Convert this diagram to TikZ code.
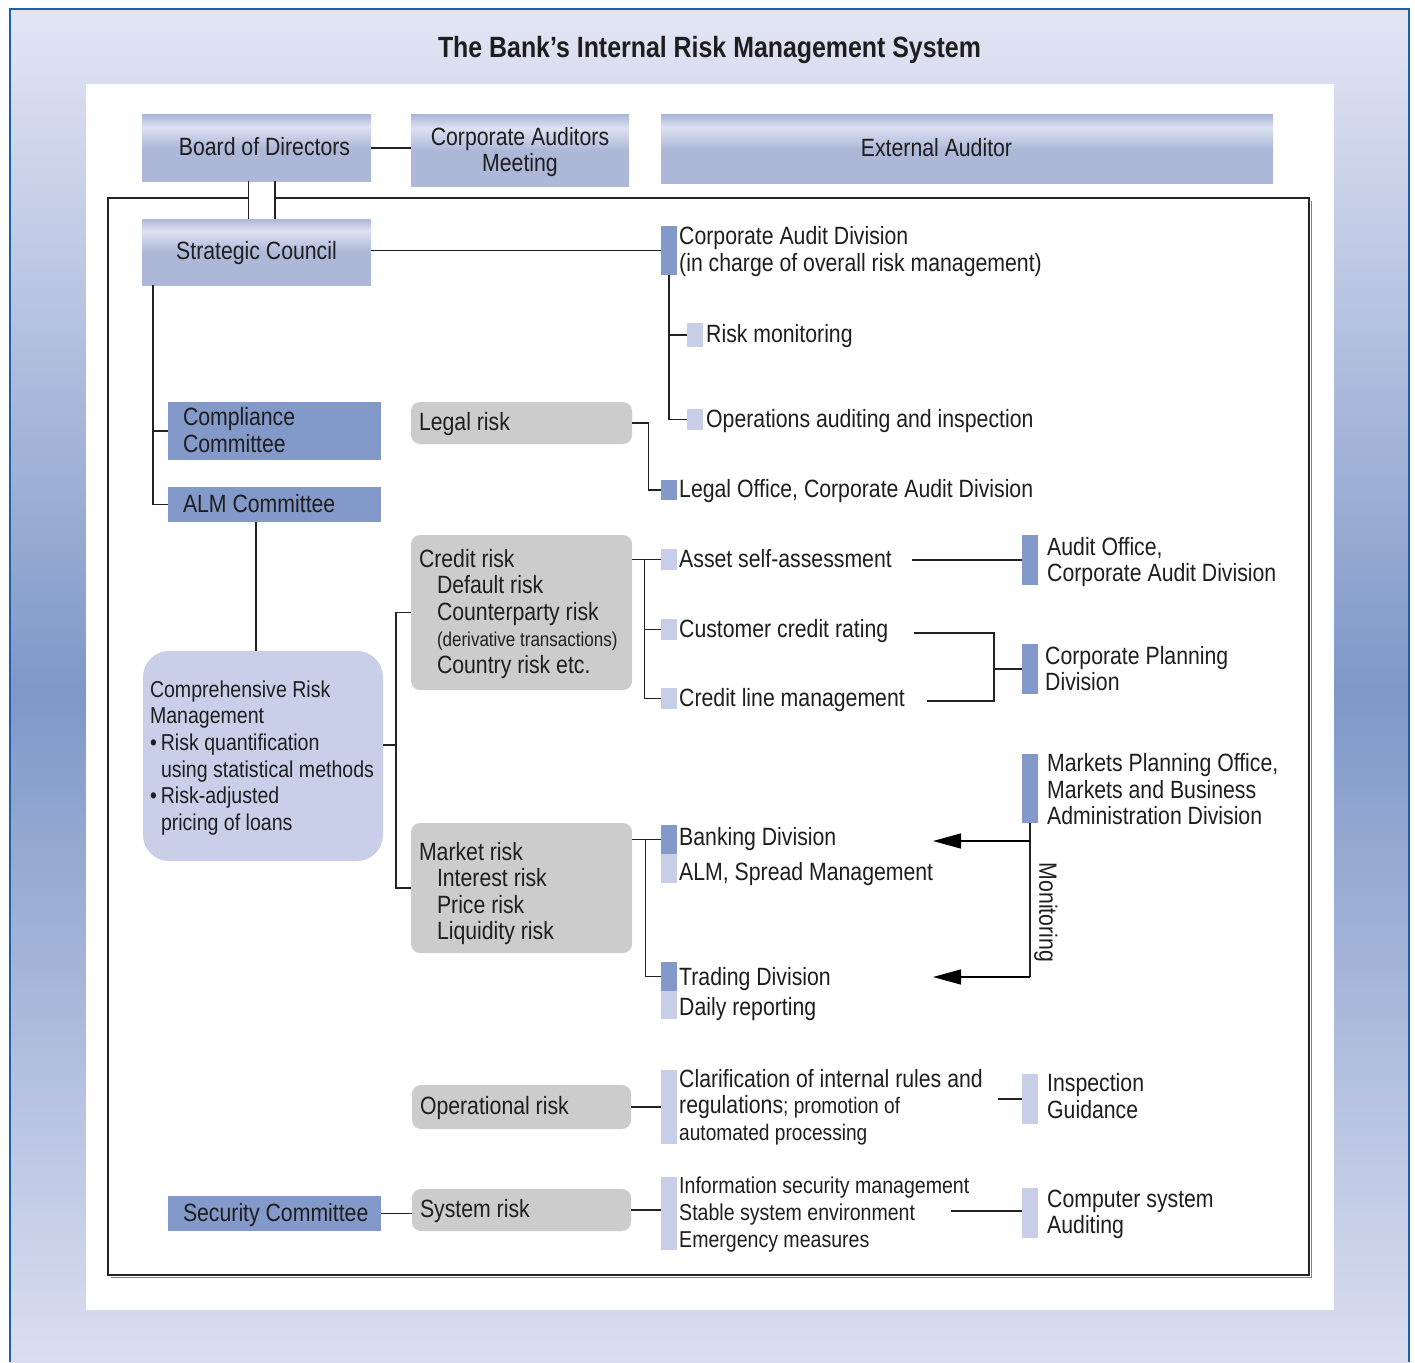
\documentclass[tikz,border=0pt]{standalone}
\usepackage{fontspec}
\setmainfont{Liberation Sans}[FakeStretch=0.85]
\usetikzlibrary{arrows.meta}

% palette
\definecolor{bordblue}{RGB}{25,97,172}
\definecolor{bgtop}{RGB}{227,229,244}
\definecolor{bgmid}{RGB}{127,152,200}
\definecolor{bgbot}{RGB}{218,222,240}
\definecolor{dkblue}{RGB}{131,153,201}
\definecolor{ltblue}{RGB}{200,206,232}
\definecolor{crmc}{RGB}{201,207,232}
\definecolor{riskgray}{RGB}{204,204,204}
\definecolor{linec}{RGB}{35,35,35}
\definecolor{txt}{RGB}{30,30,30}
\definecolor{tbtop}{RGB}{172,183,217}
\definecolor{tblight}{RGB}{221,225,242}
\definecolor{tbdark}{RGB}{173,184,216}

% header boxes: thin light band near the top, darker lower part
\pgfdeclareverticalshading{tbshade}{100bp}{color(0bp)=(tbdark); color(25bp)=(tbdark); color(50bp)=(tbdark); color(66bp)=(tblight); color(75bp)=(tbtop); color(100bp)=(tbtop)}

% type sizes and line struts
\newcommand\fnt{\fontsize{25}{26.5}\selectfont}
\newcommand\fsm{\fontsize{22.5}{26.5}\selectfont}
\newcommand\fder{\fontsize{20}{26.5}\selectfont}
\newcommand\fsys{\fontsize{23}{27}\selectfont}
\newcommand\fcrm{\fontsize{23}{26.6}\selectfont}
\newcommand\ftitle{\fontsize{29.3}{32}\selectfont\bfseries}
\newcommand\ts{\rule[-5.5pt]{0pt}{26.5pt}}
\newcommand\tss{\rule[-6pt]{0pt}{27pt}}

\begin{document}
\begin{tikzpicture}[x=1pt,y=-1pt,
  every node/.append style={font=\fnt, text=txt},
  conn/.style={draw=linec, line width=1.4pt},
  topbox/.style={shading=tbshade, shade, draw=none, inner sep=0pt, align=center},
  dkbox/.style={fill=dkblue, draw=none, inner xsep=15pt, inner ysep=0pt, align=flush left},
  riskbox/.style={fill=riskgray, draw=none, rounded corners=9pt, inner xsep=8pt, inner ysep=0pt, align=flush left},
  dkbar/.style={fill=dkblue, draw=none, inner sep=0pt, minimum width=16pt},
  ltbar/.style={fill=ltblue, draw=none, inner sep=0pt, minimum width=16pt},
  lbl/.style={anchor=west, inner sep=0pt, align=flush left},
  arr/.style={conn, draw=black, -{Triangle[length=28pt,width=15pt]}},
]
\useasboundingbox (0,0) rectangle (1415,1362);

% page background, blue frame and white panel
\fill[white] (0,0) rectangle (1415,1362);
\shade[top color=bgtop, bottom color=bgmid] (10,9) rectangle (1409,690);
\shade[top color=bgmid, bottom color=bgbot] (10,690) rectangle (1409,1362);
\draw[bordblue, line width=2.5pt] (10,1362) -- (10,9) -- (1409,9) -- (1409,1362);
\fill[white] (86,84) rectangle (1334,1310);

\node[font=\ftitle, anchor=base, inner sep=0pt] (title) at (709.5,57.7) {The Bank’s Internal Risk Management System};

% governance row
\node[topbox, minimum width=229pt, minimum height=66pt] (bod) at (256.5,148) {\ts\hspace*{16pt}Board of Directors};
\node[topbox, minimum width=218pt, minimum height=71pt] (cam) at (520,150.5) {\ts Corporate Auditors\\\ts Meeting};
\node[topbox, minimum width=612pt, minimum height=68pt] (ext) at (967,149) {\ts External Auditor\hspace*{61pt}};
\node[topbox, minimum width=229pt, minimum height=66pt] (sc) at (256.5,252) {\ts Strategic Council};
\draw[conn] (bod.east) -- (bod.east -| cam.west);
\draw[conn] ([xshift=-8pt]bod.south) -- ([xshift=-8pt]sc.north);
\draw[conn] ([xshift=18.5pt]bod.south) -- ([xshift=18.5pt]sc.north);

% internal system frame
\draw[gray, line width=1pt] (110.5,1277.5) -- (1311.5,1277.5) -- (1311.5,200.5);
\draw[conn] (248.5,198) -- (108,198) -- (108,1275) -- (1309,1275) -- (1309,198) -- (275,198);

% Corporate Audit Division
\node[dkbar, minimum height=49pt] (cadbar) at (669,250.5) {};
\node[lbl] (cadtxt) at (679,250.3) {\ts Corporate Audit Division\\\ts (in charge of overall risk management)};
\draw[conn] (sc.east |- cadbar.west) -- (cadbar.west);
\node[ltbar, minimum height=24pt] (rmbar) at (695,335) {};
\node[lbl] (rmtxt) at (706,335) {\ts Risk monitoring};
\node[ltbar, minimum height=21pt] (oabar) at (695,419.5) {};
\node[lbl] (oatxt) at (706,420) {\ts Operations auditing and inspection};
\draw[conn] (cadbar.south) |- (oabar.west);
\draw[conn] (cadbar.south |- rmbar.west) -- (rmbar.west);

% committees
\node[dkbox, minimum width=213pt, text width=183pt, minimum height=58pt] (comp) at (274.5,431) {\ts Compliance\\\ts Committee};
\node[dkbox, minimum width=213pt, text width=183pt, minimum height=35pt] (alm) at (274.5,504.5) {\ts ALM Committee};
\draw[conn] ([xshift=-103.5pt]sc.south) |- (alm.west);
\draw[conn] (comp.west) -- ([xshift=-103.5pt]sc.south |- comp.west);

% comprehensive risk management
\node[fill=crmc, draw=none, rounded corners=26pt, minimum width=240pt, minimum height=210pt, text width=226pt, inner xsep=7pt, inner ysep=0pt, align=flush left, font=\fcrm] (crm) at (263,756)
  {\ts Comprehensive Risk\\
   \ts Management\\
   \ts \textbullet\hspace{4pt}Risk quantification\\
   \ts \hspace*{11pt}\mbox{using statistical methods}\\
   \ts \textbullet\hspace{4pt}Risk-adjusted\\
   \ts \hspace*{11pt}pricing of loans};
\draw[conn] ([xshift=-18.5pt]alm.south) -- ([xshift=-18.5pt]alm.south |- crm.north);

% legal risk
\node[riskbox, minimum width=221pt, text width=205pt, minimum height=42pt] (legal) at (521.5,423) {\ts Legal risk};
\node[dkbar, minimum height=20pt] (lobar) at (669,490) {};
\node[lbl] (lotxt) at (679,490) {\ts Legal Office, Corporate Audit Division};
\draw[conn] (legal.east) -- ++(16,0) |- (lobar.west);

% credit risk
\node[riskbox, minimum width=221pt, text width=205pt, minimum height=155pt] (credit) at (521.5,612.5)
  {\ts Credit risk\\
   \ts\hspace*{18pt}Default risk\\
   \ts\hspace*{18pt}Counterparty risk\\
   \ts\hspace*{18pt}{\fder(derivative transactions)}\\
   \ts\hspace*{18pt}Country risk etc.};

% market risk
\node[riskbox, minimum width=221pt, text width=205pt, minimum height=130pt] (market) at (521.5,888)
  {\rule[-5.5pt]{0pt}{35pt}Market risk\\
   \ts\hspace*{18pt}Interest risk\\
   \ts\hspace*{18pt}Price risk\\
   \ts\hspace*{18pt}Liquidity risk};

\coordinate (rj) at (396,745);
\draw[conn] ([yshift=11pt]crm.east) -- (rj);
\draw[conn] (credit.west) -| (rj) |- (market.west);

% credit risk measures
\node[ltbar, minimum height=21pt] (astbar) at (669,559.5) {};
\node[lbl] (asttxt) at (679,559.5) {\ts Asset self-assessment};
\node[ltbar, minimum height=21pt] (ccrbar) at (669,629.5) {};
\node[lbl] (ccrtxt) at (679,629.5) {\ts Customer credit rating};
\node[ltbar, minimum height=21pt] (clmbar) at (669,698.5) {};
\node[lbl] (clmtxt) at (679,699) {\ts Credit line management};
\draw[conn] (credit.east |- astbar.west) -- (astbar.west);
\draw[conn] ([xshift=12pt]credit.east |- astbar.west) |- (clmbar.west);
\draw[conn] ([xshift=12pt]credit.east |- ccrbar.west) -- (ccrbar.west);

\node[dkbar, minimum height=50pt] (aobar) at (1030,560) {};
\node[lbl] (aotxt) at (1047,560.5) {\ts Audit Office,\\\ts Corporate Audit Division};
\coordinate (astend) at (912,560);
\draw[conn] (astend) -- (aobar.west);

\node[dkbar, minimum height=50pt] (cpbar) at (1030,669) {};
\node[lbl] (cptxt) at (1045,669.5) {\ts Corporate Planning\\\ts Division};
\coordinate (ccrend) at (914,633);
\coordinate (clmend) at (927,701);
\coordinate (cpj) at (994,669);
\draw[conn] (ccrend) -| (cpj) |- (clmend);
\draw[conn] (cpj) -- (cpbar.west);

% market risk units
\node[dkbar, minimum height=29pt] (bkbar) at (669,839.5) {};
\node[ltbar, minimum height=29pt, anchor=north] (alsbar) at (bkbar.south) {};
\node[lbl] (bktxt) at (679,838) {\ts Banking Division};
\node[lbl] (alstxt) at (679,872.5) {\ts ALM, Spread Management};
\node[dkbar, minimum height=29pt] (tdbar) at (669,976.5) {};
\node[ltbar, minimum height=28pt, anchor=north] (drbar) at (tdbar.south) {};
\node[lbl] (tdtxt) at (679,978) {\ts Trading Division};
\node[lbl] (drtxt) at (679,1008) {\ts Daily reporting};
\draw[conn] (market.east |- bkbar.west) -- (bkbar.west);
\draw[conn] ([xshift=13.5pt]market.east |- bkbar.west) |- (tdbar.west);

\node[dkbar, minimum height=69pt] (mpbar) at (1030,788.5) {};
\node[lbl] (mptxt) at (1047,790.3) {\ts Markets Planning Office,\\\ts Markets and Business\\\ts Administration Division};
\coordinate (mon1) at (1030,841);
\coordinate (mon2) at (1030,977);
\coordinate (tip1) at (933,841);
\coordinate (tip2) at (933,977);
\draw[conn] (mpbar.south) -- (mon2);
\draw[arr] (mon1) -- (tip1);
\draw[arr] (mon2) -- (tip2);
\node[rotate=-90, inner sep=0pt] (montxt) at (1047,912.5) {\ts Monitoring};

% operational risk
\node[riskbox, minimum width=219pt, text width=203pt, minimum height=44pt] (oper) at (521.5,1107) {\ts Operational risk};
\node[ltbar, minimum height=74pt] (ocbar) at (669,1107) {};
\draw[conn] (oper.east) -- (oper.east -| ocbar.west);
\node[lbl] (octxt) at (679,1106) {\ts Clarification of internal rules and\\\ts regulations{\fsm; promotion of}\\\ts{\fsm automated processing}};
\node[ltbar, minimum height=50pt] (igbar) at (1030,1099) {};
\node[lbl] (igtxt) at (1047,1097) {\ts Inspection\\\ts Guidance};
\coordinate (ocend) at (998,1099);
\draw[conn] (ocend) -- (igbar.west);

% system risk
\node[riskbox, minimum width=219pt, text width=203pt, minimum height=42pt] (sys) at (521.5,1210) {\ts System risk};
\node[dkbox, minimum width=213pt, text width=183pt, minimum height=35pt] (sec) at (274.5,1213.5) {\ts\mbox{Security Committee}};
\draw[conn] (sec.east) -- (sec.east -| sys.west);
\node[ltbar, minimum height=73pt] (isbar) at (669,1213.5) {};
\draw[conn] (sys.east) -- (sys.east -| isbar.west);
\node[lbl, font=\fsys] (istxt) at (679,1213) {\tss Information security management\\\tss Stable system environment\\\tss Emergency measures};
\node[ltbar, minimum height=50pt] (csbar) at (1030,1213) {};
\node[lbl] (cstxt) at (1047,1212.5) {\ts Computer system\\\ts Auditing};
\coordinate (isend) at (951,1211);
\draw[conn] (isend) -- (isend -| csbar.west);
\end{tikzpicture}
\end{document}
